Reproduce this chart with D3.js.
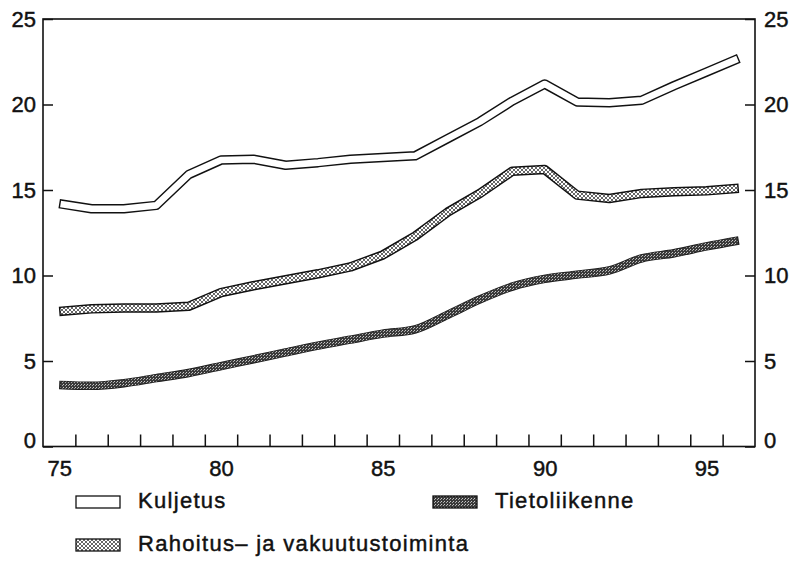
<!DOCTYPE html>
<html>
<head>
<meta charset="utf-8">
<script src="https://cdn.jsdelivr.net/npm/d3@7"></script>
<style>
  html, body { margin: 0; padding: 0; background: #fff; }
  svg { display: block; }
  text { font-family: "Liberation Sans", Arial, Helvetica, sans-serif; fill: #111; stroke: #111; stroke-width: 0.45px; }
</style>
</head>
<body>
<svg id="chart" width="794" height="562"></svg>
<script>
// Years on the horizontal axis
const years = [75, 76, 77, 78, 79, 80, 81, 82, 83, 84, 85, 86, 87, 88, 89, 90, 91, 92, 93, 94, 95, 96];

// Series values
const kuljetus = [14.2, 13.9, 13.9, 14.1, 15.9, 16.75, 16.8, 16.45, 16.6, 16.8, 16.9, 17.0, 18.0, 19.0, 20.2, 21.2, 20.15, 20.1, 20.25, 21.1, 21.9, 22.7];
const rahoitus = [7.9, 8.05, 8.1, 8.1, 8.2, 9.0, 9.4, 9.75, 10.1, 10.5, 11.2, 12.3, 13.7, 14.8, 16.1, 16.2, 14.7, 14.5, 14.8, 14.9, 14.95, 15.1];
const tietoliikenne = [3.6, 3.55, 3.7, 4.0, 4.3, 4.7, 5.1, 5.5, 5.9, 6.25, 6.6, 6.85, 7.7, 8.6, 9.35, 9.8, 10.05, 10.3, 11.0, 11.3, 11.7, 12.05];

// Axis labels and tick positions
const xLabels = [75, 80, 85, 90, 95];
const xTickMarks = [75.5, 76.5, 77.5, 78.5, 79.5, 80.5, 81.5, 82.5, 83.5, 84.5, 85.5, 86.5, 87.5, 88.5, 89.5, 90.5, 91.5, 92.5, 93.5, 94.5, 95.5];
const yTicks = [0, 5, 10, 15, 20, 25];

// Legend names
const legendNames = ["Kuljetus", "Tietoliikenne", "Rahoitus– ja vakuutustoiminta"];

const svg = d3.select("#chart");
const plotL = 43, plotR = 755, plotT = 19, plotB = 446.5;

const x = d3.scaleLinear().domain([74.5, 96.5]).range([plotL, plotR]);
const y = d3.scaleLinear().domain([0, 25]).range([plotB, plotT]);

// Fill patterns: cross-hatch and grey stipple
const defs = svg.append("defs");
const hatch = defs.append("pattern")
  .attr("id", "hatch").attr("patternUnits", "userSpaceOnUse")
  .attr("width", 4).attr("height", 4);
hatch.append("rect").attr("width", 4).attr("height", 4).attr("fill", "#fff");
hatch.append("path").attr("d", "M0,0 L4,4 M4,0 L0,4")
  .attr("stroke", "#333").attr("stroke-width", 0.75);

const stip = defs.append("pattern")
  .attr("id", "stip").attr("patternUnits", "userSpaceOnUse")
  .attr("width", 3).attr("height", 3);
stip.append("rect").attr("width", 3).attr("height", 3).attr("fill", "#3a3a3a");
stip.append("rect").attr("x", 0).attr("y", 0).attr("width", 1).attr("height", 1).attr("fill", "#c8c8c8");
stip.append("rect").attr("x", 2).attr("y", 1).attr("width", 1).attr("height", 1).attr("fill", "#a8a8a8");

// Frame
svg.append("rect")
  .attr("x", plotL).attr("y", plotT)
  .attr("width", plotR - plotL).attr("height", plotB - plotT)
  .attr("fill", "none").attr("stroke", "#111").attr("stroke-width", 1.6);

// Y axes (ticks pointing inward)
const yLeft = svg.append("g").attr("transform", `translate(${plotL},0)`)
  .call(d3.axisLeft(y).tickValues(yTicks).tickSizeInner(-10).tickSizeOuter(0).tickPadding(7));
const yRight = svg.append("g").attr("transform", `translate(${plotR},0)`)
  .call(d3.axisRight(y).tickValues(yTicks).tickSizeInner(-10).tickSizeOuter(0).tickPadding(9));

// X axis: year-boundary tick marks and centred year labels
const xMarks = svg.append("g").attr("transform", `translate(0,${plotB})`)
  .call(d3.axisBottom(x).tickValues(xTickMarks).tickSizeInner(-12).tickSizeOuter(0).tickFormat(""));
const xLab = svg.append("g").attr("transform", `translate(0,${plotB})`)
  .call(d3.axisBottom(x).tickValues(xLabels).tickSize(0).tickPadding(14).tickFormat(d3.format("d")));

[yLeft, yRight, xMarks, xLab].forEach(g => {
  g.select(".domain").remove();
  g.selectAll("line").attr("stroke", "#111").attr("stroke-width", 1.5);
  g.selectAll("text").attr("font-size", 22).attr("fill", "#111").attr("font-family", null);
});
[yLeft, yRight].forEach(g => {
  g.selectAll(".tick").filter(d => d === 0).select("text").attr("dy", "0.05em");
});

// Series lines
const line = d3.line().x((d, i) => x(years[i])).y(d => y(d));
const smooth = d3.line().x((d, i) => x(years[i])).y(d => y(d)).curve(d3.curveMonotoneX);

function band(values, gen, outerW, innerW, outerColor, innerFill) {
  const g = svg.append("g");
  g.append("path").attr("d", gen(values))
    .attr("fill", "none").attr("stroke", outerColor)
    .attr("stroke-width", outerW).attr("stroke-linejoin", "round").attr("stroke-linecap", "butt");
  const inner = g.append("path").attr("d", gen(values))
    .attr("fill", "none").attr("stroke", innerFill)
    .attr("stroke-width", innerW).attr("stroke-linejoin", "round").attr("stroke-linecap", "butt");
  const len = inner.node().getTotalLength();
  const cap = 1.4;
  inner.attr("stroke-dasharray", `${len - 2 * cap} ${len}`).attr("stroke-dashoffset", -cap);
}

band(kuljetus, line, 9.5, 6.6, "#111", "#fff");
band(rahoitus, line, 9.5, 6.6, "#111", "url(#hatch)");
band(tietoliikenne, smooth, 8.5, 6.8, "#1c1c1c", "url(#stip)");

// Legend
const legend = [
  { name: legendNames[0], bx: 76, by: 496, tx: 138, ty: 508, fill: "#fff" },
  { name: legendNames[1], bx: 433, by: 496, tx: 495, ty: 508, fill: "url(#stip)" },
  { name: legendNames[2], bx: 76, by: 539, tx: 138, ty: 551, fill: "url(#hatch)" }
];
const lg = svg.append("g");
legend.forEach(l => {
  lg.append("rect").attr("x", l.bx).attr("y", l.by).attr("width", 44).attr("height", 12)
    .attr("fill", l.fill).attr("stroke", "#111").attr("stroke-width", 1.3);
  lg.append("text").attr("x", l.tx).attr("y", l.ty)
    .attr("font-size", 22).attr("letter-spacing", "1.3px").text(l.name);
});
</script>
</body>
</html>
